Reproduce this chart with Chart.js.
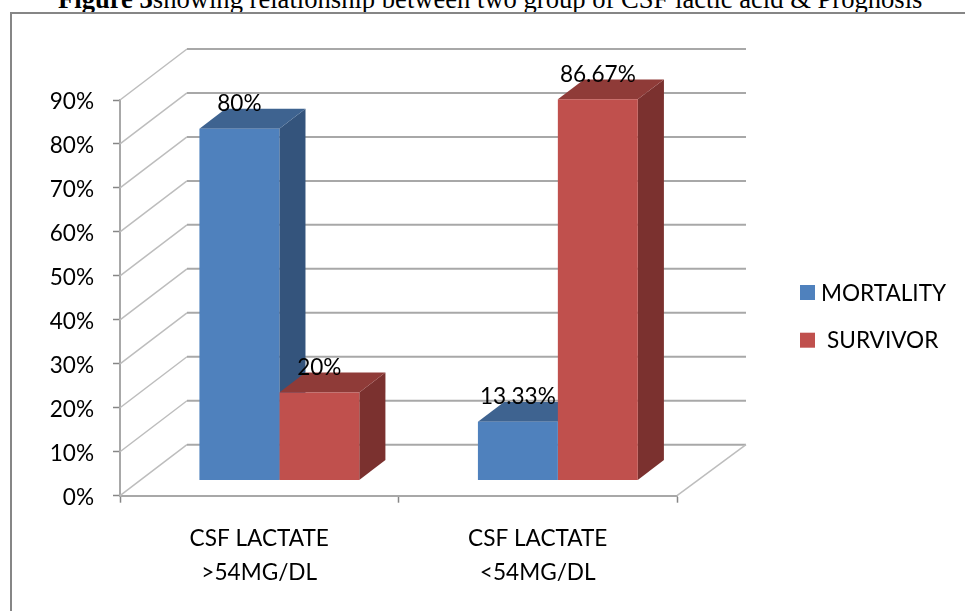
<!DOCTYPE html>
<html>
<head>
<meta charset="utf-8">
<script src="https://cdn.jsdelivr.net/npm/chart.js@4"></script>
<style>
    html, body { margin: 0; padding: 0; background: #fff; overflow: hidden; }
    #wrap { position: relative; width: 965px; height: 611px; overflow: hidden; }
    #title { position: absolute; left: 58px; top: -16px; font: 26.6px "Liberation Serif", serif; color: #000; white-space: pre; }
    #frame { position: absolute; left: 10px; top: 12px; width: 970px; height: 620px; border: 2px solid #868686; box-sizing: border-box; }
    canvas { position: absolute; left: 0; top: 0; filter: blur(0.45px); }
</style>
</head>
<body>
<div id="wrap">
    <div id="title"><b>Figure 3</b>showing relationship between two group of CSF lactic acid &amp; Prognosis</div>
    <div id="frame"></div>
    <canvas id="chart" width="965" height="611"></canvas>
</div>
<script>
const categories = [['CSF LACTATE', '>54MG/DL'], ['CSF LACTATE', '<54MG/DL']];
const mortality = [80, 13.33];
const survivor = [20, 86.67];
const mortalityLabels = ['80%', '13.33%'];
const survivorLabels = ['20%', '86.67%'];

// Fake 3D: depth of the floor and how far into it the bars sit
const DEPTH_X = 67, DEPTH_Y = 51;
const BAR_POS = 0.3, BAR_DEPTH = 0.39;
const FONT = '22.6px Lato, sans-serif';
const GRID = '#a8a8a8';

const faces = {
    '#4f81bd': { top: '#3e6390', side: '#34547c' },
    '#c0504d': { top: '#8f3b38', side: '#7b312f' }
};

function fillPoly(ctx, pts, color) {
    ctx.fillStyle = color;
    ctx.beginPath();
    pts.forEach((p, i) => i ? ctx.lineTo(p[0], p[1]) : ctx.moveTo(p[0], p[1]));
    ctx.closePath();
    ctx.fill();
}

const walls3d = {
    id: 'walls3d',
    beforeDatasetsDraw(chart) {
        const { ctx, scales: { x, y } } = chart;
        const left = x.left, right = x.right;

        ctx.save();
        y.ticks.forEach(t => {
            const py = y.getPixelForValue(t.value);
            // side wall
            ctx.strokeStyle = '#bdbdbd';
            ctx.lineWidth = 1.5;
            ctx.beginPath();
            ctx.moveTo(left, py);
            ctx.lineTo(left + DEPTH_X, py - DEPTH_Y);
            ctx.stroke();
            // back wall
            ctx.strokeStyle = GRID;
            ctx.lineWidth = 2;
            ctx.beginPath();
            ctx.moveTo(left + DEPTH_X, py - DEPTH_Y);
            ctx.lineTo(right + DEPTH_X + 2, py - DEPTH_Y);
            ctx.stroke();
        });
        // floor edge on the right
        const p0 = y.getPixelForValue(0);
        ctx.strokeStyle = '#bdbdbd';
        ctx.lineWidth = 1.5;
        ctx.beginPath();
        ctx.moveTo(right, p0);
        ctx.lineTo(right + DEPTH_X + 2, p0 - DEPTH_Y);
        ctx.stroke();
        ctx.restore();

        // everything the bars draw is pushed back on to the floor
        ctx.save();
        ctx.translate(DEPTH_X * BAR_POS, -DEPTH_Y * BAR_POS);
        const dx = DEPTH_X * BAR_DEPTH, dy = DEPTH_Y * BAR_DEPTH;
        chart.data.datasets.forEach((ds, i) => {
            chart.getDatasetMeta(i).data.forEach(bar => {
                const l = bar.x - bar.width / 2, r = bar.x + bar.width / 2;
                const c = faces[ds.backgroundColor];
                fillPoly(ctx, [[r, bar.y], [r + dx, bar.y - dy], [r + dx, bar.base - dy], [r, bar.base]], c.side);
                fillPoly(ctx, [[l, bar.y], [r, bar.y], [r + dx, bar.y - dy], [l + dx, bar.y - dy]], c.top);
            });
        });
    },
    afterDatasetsDraw(chart) {
        const { ctx } = chart;
        // value labels sit above the top face
        ctx.font = FONT;
        ctx.fillStyle = '#000';
        ctx.textAlign = 'center';
        ctx.textBaseline = 'middle';
        chart.data.datasets.forEach((ds, i) => {
            chart.getDatasetMeta(i).data.forEach((bar, j) => {
                ctx.fillText(ds.valueLabels[j], bar.x, bar.y - 25);
            });
        });
        ctx.restore();
    },
    afterDraw(chart) {
        const { ctx } = chart;
        // legend
        ctx.save();
        ctx.font = FONT;
        ctx.textAlign = 'left';
        ctx.textBaseline = 'middle';
        chart.data.datasets.forEach((ds, i) => {
            const top = 285 + i * 47.7;
            ctx.fillStyle = ds.backgroundColor;
            ctx.fillRect(800, top, 15, 15);
            ctx.fillStyle = '#000';
            ctx.fillText(ds.label, i ? 827 : 821, top + 8.5);
        });
        ctx.restore();
    }
};

new Chart(document.getElementById('chart'), {
    type: 'bar',
    data: {
        labels: categories,
        datasets: [
            { label: 'MORTALITY', data: mortality, valueLabels: mortalityLabels, backgroundColor: '#4f81bd', clip: false },
            { label: 'SURVIVOR', data: survivor, valueLabels: survivorLabels, backgroundColor: '#c0504d', clip: false }
        ]
    },
    options: {
        responsive: false,
        animation: false,
        layout: { padding: { top: 100, right: 288, left: 0, bottom: 0 } },
        plugins: { legend: { display: false }, tooltip: { enabled: false } },
        datasets: { bar: { categoryPercentage: 0.574, barPercentage: 1 } },
        scales: {
            x: {
                afterFit(scale) { scale.height = 115.3; },
                grid: { drawOnChartArea: false, tickLength: 7, color: '#868686', tickWidth: 1.5 },
                border: { color: GRID, width: 2 },
                ticks: { color: '#000', padding: 19.5, font: { family: 'Lato', size: 22.6, lineHeight: 1.5 }, maxRotation: 0 }
            },
            y: {
                min: 0,
                max: 90,
                afterFit(scale) { scale.width = 120; },
                grid: { drawOnChartArea: false, tickLength: 7, color: '#868686', tickWidth: 1.5 },
                border: { color: GRID, width: 2 },
                ticks: { stepSize: 10, color: '#000', padding: 19, labelOffset: 2, font: { family: 'Lato', size: 22.6 }, callback: v => v + '%' }
            }
        }
    },
    plugins: [walls3d]
});
</script>
</body>
</html>
